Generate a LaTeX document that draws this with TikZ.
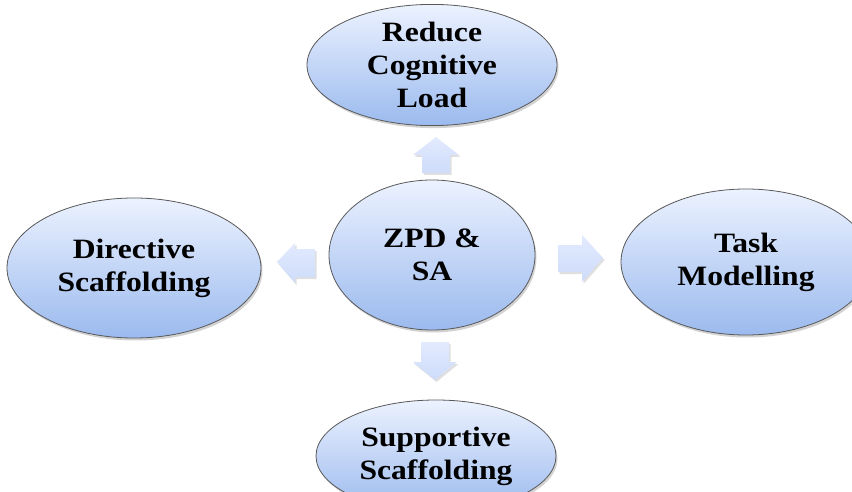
\documentclass[tikz,border=0pt]{standalone}
\usepackage{fontspec}
\setmainfont[FakeStretch=1.13]{Liberation Serif}
\usetikzlibrary{shapes.geometric,shadows}
\definecolor{ovaltop}{RGB}{236,242,255}
\definecolor{ovalbot}{RGB}{155,186,238}
\definecolor{arrowtop}{RGB}{226,234,254}
\definecolor{arrowbot}{RGB}{206,220,250}
\tikzset{
  oval/.style={ellipse, draw=black!65, line width=0.8pt, inner sep=0pt,
    top color=ovaltop, bottom color=ovalbot, align=center,
    font=\fontsize{28}{33}\selectfont\bfseries,
    drop shadow={shadow xshift=1.5pt, shadow yshift=-2.5pt, opacity=0.35}},
  blockarrow/.style={draw=none, top color=arrowtop, bottom color=arrowbot,
    drop shadow={shadow xshift=1.5pt, shadow yshift=-2pt, opacity=0.25}}
}
\begin{document}
\begin{tikzpicture}[x=1pt, y=-1pt]% ------ ZPD & SA -----------------
    \useasboundingbox (0,0) rectangle (852,492);
    \clip (0,0) rectangle (852,492);
    \fill [white] (0,0) rectangle (852,492);
    % the ovals
    \node [oval, minimum width=250pt, minimum height=110pt] (load) at (432,65) {Reduce\\Cognitive\\Load};
    \node [oval, minimum width=206pt, minimum height=150pt] (zpd) at (432,255) {ZPD \&\\SA};
    \node [oval, minimum width=254pt, minimum height=140pt] (directive) at (134,268) {Directive\\Scaffolding};
    \node [oval, minimum width=250pt, minimum height=146pt] (task) at (746,262) {Task\\Modelling};
    \node [oval, minimum width=240pt, minimum height=112pt] (supportive) at (436,456) {Supportive\\Scaffolding};
    % the block arrows
    \path [blockarrow] (422,173)--(422,155)--(413,155)--(436,137)--(459,155)--(450,155)--(450,173)--cycle;
    \path [blockarrow] (315,249)--(295,249)--(295,243)--(277,262)--(295,283)--(295,277)--(315,277)--cycle;
    \path [blockarrow] (558,245)--(582,245)--(582,235)--(603,258)--(582,282)--(582,272)--(558,272)--cycle;
    \path [blockarrow] (421,342)--(449,342)--(449,362)--(457,362)--(435,380)--(413,362)--(421,362)--cycle;
\end{tikzpicture}
\end{document}
